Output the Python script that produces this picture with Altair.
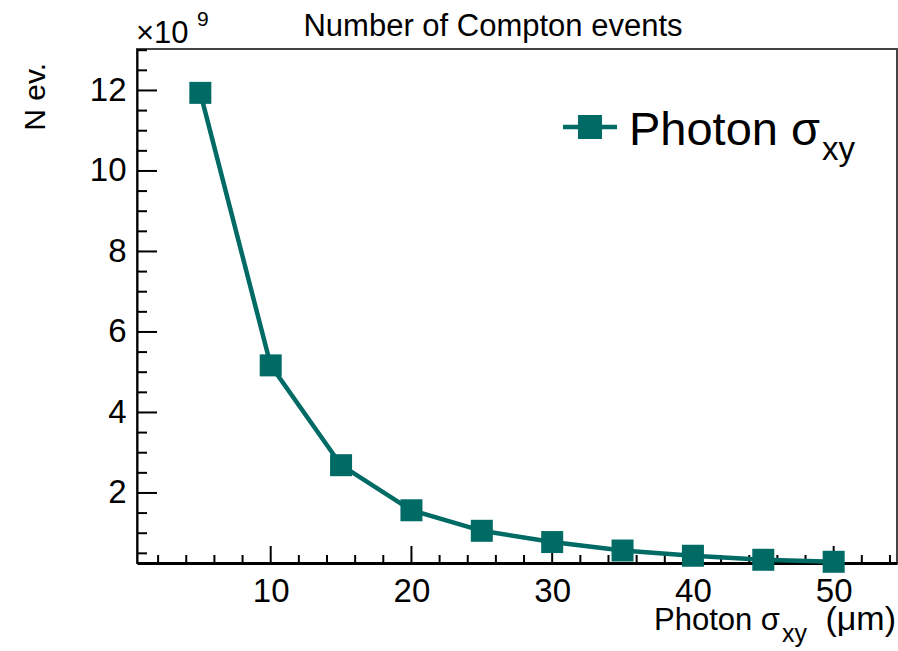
import altair as alt
import pandas as pd

# ---- data ----
sigma_xy = [5, 10, 15, 20, 25, 30, 35, 40, 45, 50]          # Photon sigma_xy (um)
n_events = [11.94, 5.17, 2.69, 1.57, 1.06, 0.78, 0.57, 0.44, 0.34, 0.29]  # x 1e9

x_major = [10, 20, 30, 40, 50]
x_minor = [2, 4, 6, 8, 12, 14, 16, 18, 22, 24, 26, 28, 32, 34, 36, 38,
           42, 44, 46, 48, 52, 54]
y_major = [2, 4, 6, 8, 10, 12]
y_minor = [0.5, 1, 1.5, 2.5, 3, 3.5, 4.5, 5, 5.5, 6.5, 7, 7.5, 8.5, 9, 9.5,
           10.5, 11, 11.5, 12.5, 13]

X_DOMAIN = [0.5, 54.5]
Y_DOMAIN = [0.26, 13.03]

W, H = 760, 514
TEAL = "#006a65"
FONT = "Liberation Sans"

df = pd.DataFrame({"x": sigma_xy, "y": n_events})

xscale = alt.Scale(domain=X_DOMAIN, nice=False, zero=False)
yscale = alt.Scale(domain=Y_DOMAIN, nice=False, zero=False)

xaxis = alt.Axis(values=x_major, ticks=False, grid=False, title=None,
                 domainColor="black", domainWidth=3, labelFont=FONT,
                 labelFontSize=33, labelColor="black", labelPadding=12,
                 labelFlush=False)
yaxis = alt.Axis(values=y_major, ticks=False, grid=False, title=None,
                 domainColor="black", domainWidth=2, labelFont=FONT,
                 labelFontSize=33, labelColor="black", labelPadding=11,
                 labelFlush=False)

line = alt.Chart(df).mark_line(color=TEAL, strokeWidth=4.5).encode(
    x=alt.X("x:Q", scale=xscale, axis=xaxis),
    y=alt.Y("y:Q", scale=yscale, axis=yaxis),
)
points = alt.Chart(df).mark_square(color=TEAL, size=484, opacity=1).encode(
    x=alt.X("x:Q", scale=xscale, axis=xaxis),
    y=alt.Y("y:Q", scale=yscale, axis=yaxis),
)

# inward ticks drawn as rules
def yticks(vals, length):
    return alt.Chart(pd.DataFrame({"y": vals})).mark_rule(
        color="black", strokeWidth=2).encode(
        y=alt.Y("y:Q", scale=yscale, axis=yaxis),
        x=alt.value(0), x2=alt.value(length))

def xticks(vals, length):
    return alt.Chart(pd.DataFrame({"x": vals})).mark_rule(
        color="black", strokeWidth=2).encode(
        x=alt.X("x:Q", scale=xscale, axis=xaxis),
        y=alt.value(H), y2=alt.value(H - length))

def label(text, x, y, size, align="left", baseline="alphabetic", angle=0,
          color="black"):
    return alt.Chart(alt.InlineData(values=[{}])).mark_text(
        text=text, font=FONT, fontSize=size, align=align, baseline=baseline,
        angle=angle, color=color).encode(x=alt.value(x), y=alt.value(y))

# legend (drawn by hand, because of the subscript)
leg_line = alt.Chart(alt.InlineData(values=[{}])).mark_rule(
    color=TEAL, strokeWidth=4.5).encode(
    x=alt.value(426), x2=alt.value(480), y=alt.value(78))
leg_sq = alt.Chart(alt.InlineData(values=[{}])).mark_square(
    color=TEAL, size=576, opacity=1).encode(x=alt.value(453), y=alt.value(78))

layers = [
    yticks(y_minor, 10), yticks(y_major, 20),
    xticks(x_minor, 8), xticks(x_major, 17),
    line, points,
    leg_line, leg_sq,
    label("Photon σ", 683, 96, 47, align="right"),
    label("xy", 685, 111, 33),
    # x-axis title
    label("Photon σ", 643, 581, 31, align="right"),
    label("xy", 645, 593, 25),
    label("(μm)", 759, 581, 34, align="right"),
    # y-axis title
    label("N ev.", -92, 14, 30, align="right", angle=270),
    # exponent
    label("×10", -1, -6, 31),
    label("9", 60, -23, 21),
    # title
    label("Number of Compton events", 356, -13, 31, align="center"),
]

chart = alt.layer(*layers).properties(
    width=W, height=H,
    autosize=alt.AutoSizeParams(type="none"),
    padding={"left": 137, "top": 49, "right": 1, "bottom": 88},
    background="white",
).configure_view(stroke="#444", strokeWidth=2)

chart.save("out.html", embed_options={"renderer": "svg", "actions": False})
